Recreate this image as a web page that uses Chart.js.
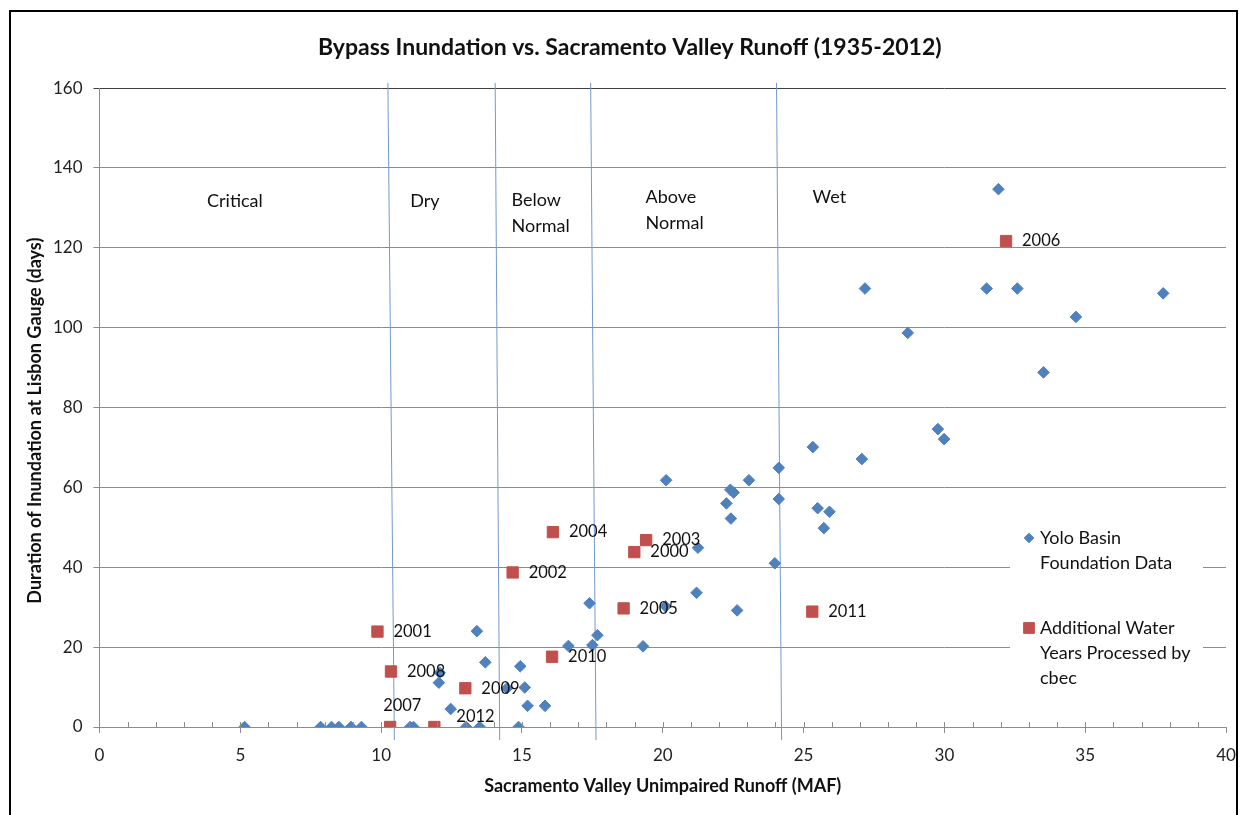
<!DOCTYPE html>
<html>
<head>
<meta charset="utf-8">
<script src="https://cdn.jsdelivr.net/npm/chart.js@4"></script>
<style>
    html, body { margin: 0; padding: 0; background: #fff; }
    #wrap { width: 1243px; height: 815px; }
</style>
</head>
<body>
<div id="wrap"><canvas id="grafica"></canvas></div>
<script>
// Yolo Basin Foundation data: runoff (MAF) and days of inundation
const yoloRunoff = [5.15, 7.85, 8.24, 8.5, 8.93, 9.3, 11.03, 11.15, 12.08, 12.05,
    12.47, 13.02, 13.5, 13.4, 13.7, 14.47, 14.88, 14.94, 15.1, 15.2,
    15.82, 16.65, 17.4, 17.5, 17.68, 19.3, 20.1, 20.12, 21.2, 21.25,
    22.26, 22.4, 22.52, 22.42, 22.64, 23.06, 23.98, 24.12, 24.12, 25.33,
    25.5, 25.92, 25.72, 27.07, 27.18, 28.7, 29.77, 29.99, 31.5, 31.92,
    32.59, 33.52, 34.67, 37.77];
const yoloDays = [0, 0, 0, 0, 0, 0, 0, 0, 13.6, 11.1,
    4.5, 0, 0, 24, 16.2, 9.7, 0, 15.2, 9.9, 5.3,
    5.3, 20.3, 31, 20.5, 23, 20.2, 30.2, 61.8, 33.6, 44.9,
    56, 59.4, 58.7, 52.2, 29.2, 61.8, 41, 64.9, 57.1, 70.1,
    54.8, 53.9, 49.8, 67.1, 109.8, 98.7, 74.6, 72.1, 109.8, 134.7,
    109.8, 88.8, 102.7, 108.6];

// additional water years processed by cbec
const cbecYears = ["2000", "2001", "2002", "2003", "2004", "2005", "2006",
    "2007", "2008", "2009", "2010", "2011", "2012"];
const cbecRunoff = [18.99, 9.87, 14.67, 19.41, 16.1, 18.61, 32.19,
    10.32, 10.35, 12.99, 16.07, 25.31, 11.89];
const cbecDays = [43.8, 23.9, 38.7, 46.8, 48.8, 29.7, 121.7,
    0, 13.9, 9.7, 17.6, 28.9, 0];

// water year type boundaries (runoff where the line meets the bottom / top)
const boundaryBottom = [10.47, 14.21, 17.63, 24.22];
const boundaryTop = [10.24, 14.05, 17.44, 24.04];
const yearTypes = ["Critical", "Dry", "Below Normal", "Above Normal", "Wet"];

// ticks
const xTicks = [0, 5, 10, 15, 20, 25, 30, 35, 40];
const yTicks = [0, 20, 40, 60, 80, 100, 120, 140, 160];

// --- layout / style (not data) ---
const FONT = "Lato";
const BLUE = "#4F81BD";
const RED = "#C0504D";
const yearTypePos = [[3.82, 131.8], [11.03, 131.8], [14.63, 132.0], [19.39, 132.8], [25.32, 132.8]];
const labelOffsets = { "2007": [-7, -21], "2012": [22, -10] };

const boundaryLines = boundaryBottom.map((b, i) => ({
    type: "line",
    label: "limite " + i,
    data: [{ x: b, y: -3.3 }, { x: boundaryTop[i], y: 161.3 }],
    borderColor: "#7399CC",
    borderWidth: 1,
    pointRadius: 0,
    clip: false,
    order: 3
}));

// Texto de tipos de año
const yearTypePlugin = {
    id: "yearTypes",
    beforeDatasetsDraw(chart) {
        const { ctx, scales: { x, y } } = chart;
        ctx.save();
        ctx.font = `18px ${FONT}`;
        ctx.fillStyle = "#111";
        ctx.textAlign = "left";
        ctx.textBaseline = "middle";
        yearTypes.forEach((t, i) => {
            const px = x.getPixelForValue(yearTypePos[i][0]);
            const py = y.getPixelForValue(yearTypePos[i][1]);
            t.split(" ").forEach((w, j) => ctx.fillText(w, px, py + j * 26));
        });
        ctx.restore();
    }
};

// Etiquetas de años cbec
const yearLabelPlugin = {
    id: "yearLabels",
    afterDatasetsDraw(chart) {
        const { ctx } = chart;
        const meta = chart.getDatasetMeta(0);
        ctx.save();
        ctx.font = `16.5px ${FONT}`;
        ctx.fillStyle = "#111";
        ctx.textAlign = "left";
        ctx.textBaseline = "middle";
        meta.data.forEach((pt, i) => {
            const off = labelOffsets[cbecYears[i]] || [16, 0];
            ctx.fillText(cbecYears[i], pt.x + off[0], pt.y + off[1]);
        });
        ctx.restore();
    }
};

// Marco, marcas menores y leyenda
const framePlugin = {
    id: "frame",
    afterDraw(chart) {
        const { ctx, chartArea, scales: { x } } = chart;
        ctx.save();
        // minor ticks inside the axis
        ctx.strokeStyle = "#8c8c8c";
        ctx.lineWidth = 1;
        ctx.beginPath();
        for (let v = 1; v < 40; v++) {
            const px = Math.round(x.getPixelForValue(v)) + 0.5;
            ctx.moveTo(px, chartArea.bottom - 5);
            ctx.lineTo(px, chartArea.bottom);
        }
        ctx.stroke();

        // legend
        ctx.fillStyle = "#fff";
        ctx.fillRect(1010, 505, 193, 195);
        ctx.font = `18px ${FONT}`;
        ctx.textAlign = "left";
        ctx.textBaseline = "middle";
        const entries = [
            { ds: chart.data.datasets[1], y: 538, r: 4.8 },
            { ds: chart.data.datasets[0], y: 628, r: 7.6 }
        ];
        entries.forEach(e => {
            ctx.fillStyle = e.ds.backgroundColor;
            ctx.strokeStyle = e.ds.borderColor;
            Chart.helpers.drawPoint(ctx, { pointStyle: e.ds.pointStyle, radius: e.r, borderWidth: 1, rotation: 0 }, 1029, e.y);
            ctx.fillStyle = "#111";
            const words = e.ds.label.split(" ");
            const lines = [];
            let cur = "";
            words.forEach(w => {
                const test = cur ? cur + " " + w : w;
                if (ctx.measureText(test).width > 162 && cur) { lines.push(cur); cur = w; }
                else cur = test;
            });
            lines.push(cur);
            lines.forEach((l, j) => ctx.fillText(l, 1040, e.y + j * 25));
        });

        // outer frame
        ctx.strokeStyle = "#000";
        ctx.lineWidth = 2;
        ctx.strokeRect(10, 11, 1227, 830);
        ctx.restore();
    }
};

new Chart(document.getElementById("grafica"), {
    type: "scatter",
    data: {
        datasets: [
            {
                label: "Additional Water Years Processed by cbec",
                data: cbecRunoff.map((v, i) => ({ x: v, y: cbecDays[i] })),
                pointStyle: "rect",
                pointRadius: 8,
                pointBorderWidth: 1,
                backgroundColor: RED,
                borderColor: RED,
                order: 1
            },
            {
                label: "Yolo Basin Foundation Data",
                data: yoloRunoff.map((v, i) => ({ x: v, y: yoloDays[i] })),
                pointStyle: "rectRot",
                pointRadius: 5.8,
                pointBorderWidth: 1,
                backgroundColor: BLUE,
                borderColor: BLUE,
                order: 2
            },
            ...boundaryLines
        ]
    },
    options: {
        responsive: true,
        maintainAspectRatio: false,
        animation: false,
        layout: { padding: { left: 0, right: 17, top: 0, bottom: 0 } },
        plugins: {
            legend: { display: false },
            tooltip: { enabled: false },
            title: {
                display: true,
                text: "      Bypass Inundation vs. Sacramento Valley Runoff (1935-2012)",
                color: "#111",
                font: { family: FONT, size: 23, weight: "bold" },
                padding: { top: 34, bottom: 26.5 }
            }
        },
        scales: {
            x: {
                type: "linear",
                min: 0,
                max: 40,
                afterBuildTicks: s => { s.ticks = xTicks.map(v => ({ value: v })); },
                afterFit: s => { s.height = 88; },
                ticks: { padding: 6, color: "#222", maxRotation: 0, font: { family: FONT, size: 17, lineHeight: 2 } },
                grid: { drawOnChartArea: false, tickLength: 6, color: "#8c8c8c" },
                border: { color: "#8c8c8c" },
                title: {
                    display: true,
                    text: "Sacramento Valley Unimpaired Runoff (MAF)",
                    color: "#111",
                    font: { family: FONT, size: 18, weight: "bold" },
                    padding: { bottom: 18 }
                }
            },
            y: {
                min: 0,
                max: 160,
                afterBuildTicks: s => { s.ticks = yTicks.map(v => ({ value: v })); },
                afterFit: s => { s.width = 99.5; },
                ticks: { padding: 11, color: "#222", font: { family: FONT, size: 17 } },
                grid: {
                    tickLength: 6,
                    color: c => (c.tick && c.tick.value === 160 ? "#404040" : "#8c8c8c")
                },
                border: { color: "#8c8c8c" },
                title: {
                    display: true,
                    text: "Duration of Inundation at Lisbon Gauge (days)      ",
                    color: "#111",
                    font: { family: FONT, size: 18, weight: "bold" },
                    padding: { top: 24 }
                }
            }
        }
    },
    plugins: [yearTypePlugin, yearLabelPlugin, framePlugin]
});
</script>
</body>
</html>
